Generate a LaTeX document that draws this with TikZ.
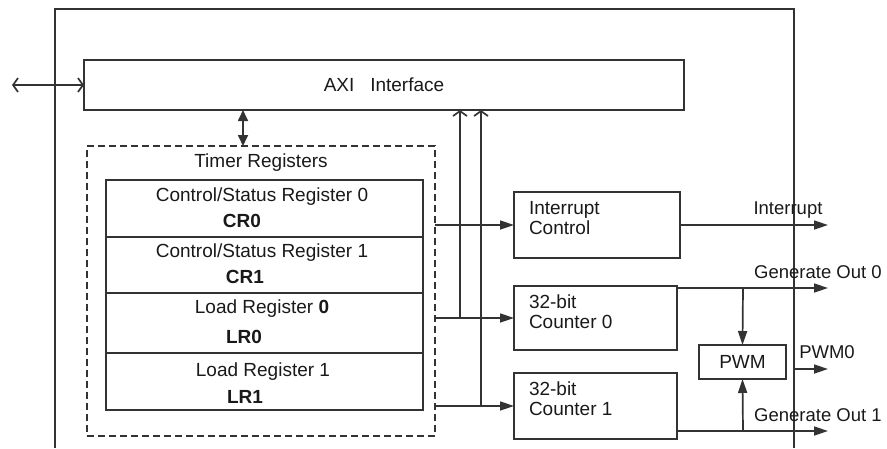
\documentclass[tikz,border=0pt]{standalone}
\usepackage{fontspec}
\setmainfont{Liberation Sans}
\usetikzlibrary{arrows.meta}
\begin{document}
\begin{tikzpicture}[x=1pt,y=-1pt,
  every node/.style={font=\fontsize{19}{20}\selectfont, text=black!90, inner sep=0pt, outer sep=0pt},
  ln/.style={draw=black!80, line width=1.7pt},
  blk/.style={ln, rectangle},
  fa/.style={-{Triangle[length=14pt,width=9pt]}},
  oa/.style={-{Straight Barb[length=5pt,width=14pt]}},
  dbl/.style={{Triangle[length=11pt,width=10pt]}-{Triangle[length=11pt,width=10pt]}},
  dbo/.style={{Straight Barb[length=5pt,width=14pt]}-{Straight Barb[length=5pt,width=14pt]}},
  bnum/.style={font=\fontsize{19}{20}\selectfont\bfseries},
  lbl/.style={font=\fontsize{18.5}{20}\selectfont}]
\useasboundingbox (0,0) rectangle (887,448);
% outer frame (continues below the picture)
\draw[ln] (55,448) -- (55,9) -- (794,9) -- (794,448);

% AXI interface
\node[blk, minimum width=600pt, minimum height=50pt] (axi) at (384,85) {AXI\ \ \ Interface};

% timer registers
\node[ln, line width=1.5pt, dash pattern=on 7pt off 4pt, minimum width=348pt, minimum height=290pt] (timer) at (261,291) {};
\node (timert) at (261,163) {Timer Registers};
\node[blk, minimum width=317pt, minimum height=57pt] (r0) at (264.5,208.5) {};
\node[blk, minimum width=317pt, minimum height=56pt] (r1) at (264.5,265) {};
\node[blk, minimum width=317pt, minimum height=60pt] (r2) at (264.5,323) {};
\node[blk, minimum width=317pt, minimum height=57pt] (r3) at (264.5,381.5) {};
\node (r0t) at (262,197) {Control/Status Register 0};
\node[bnum] (r0n) at (242,221) {CR0};
\node (r1t) at (262,253) {Control/Status Register 1};
\node[bnum] (r1n) at (245,277) {CR1};
\node (r2t) at (262,309) {Load Register \textbf{0}};
\node[bnum] (r2n) at (244,337) {LR0};
\node (r3t) at (263,372) {Load Register 1};
\node[bnum] (r3n) at (245,397) {LR1};

% right blocks
\node[blk, minimum width=166pt, minimum height=66pt] (intc) at (597,225) {};
\node[align=left, anchor=west] (intct) at (529,218) {Interrupt\\Control};
\node[blk, minimum width=163pt, minimum height=64pt] (cnt0) at (595.5,318) {};
\node[align=left, anchor=west] (cnt0t) at (529,312) {32-bit\\Counter 0};
\node[blk, minimum width=163pt, minimum height=66pt] (cnt1) at (595.5,406) {};
\node[align=left, anchor=west] (cnt1t) at (529,398.5) {32-bit\\Counter 1};
\node[blk, minimum width=87pt, minimum height=34pt] (pwm) at (742.5,362) {PWM};

% helper coordinates
\coordinate (ext) at (12,85);
\coordinate (c1) at (243,0);
\coordinate (c2) at (460,0);
\coordinate (c3) at (481,0);
\coordinate (oend) at (828,0);
\coordinate (g0) at (677,288);
\coordinate (g0j) at (743,288);
\coordinate (g1) at (677,431);
\coordinate (g1j) at (743,431);
\coordinate (p0) at (795,369);

% connectors
\draw[ln, dbo] (ext) -- (axi.west);
\draw[ln, dbl] (c1 |- axi.south) -- (c1 |- timer.north);
\draw[ln, oa] (c2 |- cnt0.west) -- (c2 |- axi.south);
\draw[ln, oa] (c3 |- cnt1.west) -- (c3 |- axi.south);
\draw[ln, fa] (timer.east |- intc.west) -- (intc.west);
\draw[ln, fa] (timer.east |- cnt0.west) -- (cnt0.west);
\draw[ln, fa] (timer.east |- cnt1.west) -- (cnt1.west);
\draw[ln, fa] (intc.east) -- (oend |- intc.east);
\draw[ln, fa] (g0) -- (oend |- g0);
\draw[ln, fa] (g0j) -- (pwm.north);
\draw[ln, fa] (g1) -- (oend |- g1);
\draw[ln, fa] (g1j) -- (pwm.south);
\draw[ln, fa] (p0) -- (oend |- p0);

% output labels
\node[lbl] (lint) at (788,210) {Interrupt};
\node[lbl] (lg0) at (818,272) {Generate Out 0};
\node[lbl] (lpwm) at (827,352) {PWM0};
\node[lbl] (lg1) at (818,415) {Generate Out 1};
\end{tikzpicture}
\end{document}
